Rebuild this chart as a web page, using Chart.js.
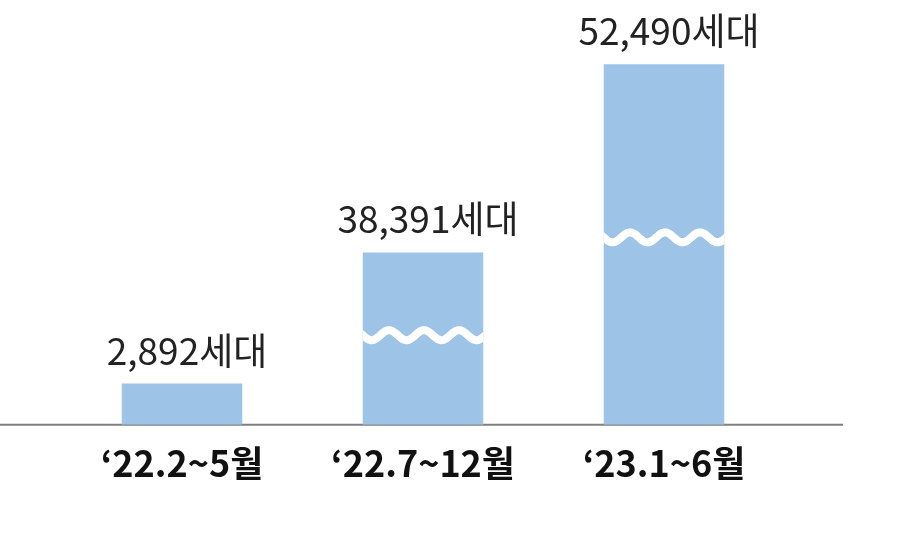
<!DOCTYPE html>
<html>
<head>
<meta charset="utf-8">
<script src="https://cdn.jsdelivr.net/npm/chart.js@4/dist/chart.umd.min.js"></script>
<style>
  html, body { margin: 0; padding: 0; background: #fff; }
  #wrap { width: 900px; height: 536px; }
</style>
</head>
<body>
<div id="wrap"><canvas id="chart"></canvas></div>
<script>
const periods = ["‘22.2~5월", "‘22.7~12월", "‘23.1~6월"];
const households = [2892, 38391, 52490];
// part of each bar hidden behind the wavy break
const hiddenByBreak = [0, 26300, 27200];

const shown = households.map((v, i) => v - hiddenByBreak[i]);

const baselinePlugin = {
  id: "baseline",
  beforeDatasetsDraw(chart) {
    const { ctx } = chart;
    const y = chart.scales.y.getPixelForValue(0);
    ctx.save();
    ctx.strokeStyle = "#7f7f7f";
    ctx.lineWidth = 2;
    ctx.beginPath();
    ctx.moveTo(0, y);
    ctx.lineTo(843, y);
    ctx.stroke();
    ctx.restore();
  },
};

const barExtrasPlugin = {
  id: "barExtras",
  afterDatasetsDraw(chart) {
    const { ctx } = chart;
    const meta = chart.getDatasetMeta(0);
    const base = chart.scales.y.getPixelForValue(0);
    ctx.save();
    meta.data.forEach((bar, i) => {
      const left = bar.x - bar.width / 2;
      const right = bar.x + bar.width / 2;
      if (hiddenByBreak[i] > 0) {
        const yMid = base - (base - bar.y) * 0.52;
        ctx.save();
        ctx.beginPath();
        ctx.rect(left, bar.y, bar.width, base - bar.y);
        ctx.clip();
        ctx.strokeStyle = "#ffffff";
        ctx.lineWidth = 8;
        ctx.lineJoin = "round";
        ctx.beginPath();
        for (let x = left - 4; x <= right + 4; x += 1) {
          const t = (x - left) / 35;
          const y = yMid + 5 * Math.sin(t * Math.PI * 2);
          if (x === left - 4) ctx.moveTo(x, y);
          else ctx.lineTo(x, y);
        }
        ctx.stroke();
        ctx.restore();
      }
      ctx.fillStyle = "#222";
      ctx.font = "37px 'Noto Sans CJK KR'";
      ctx.textAlign = "center";
      ctx.textBaseline = "alphabetic";
      ctx.fillText(households[i].toLocaleString("en-US") + "세대", bar.x + 5, bar.y - 19);
    });
    ctx.restore();
  },
};

new Chart(document.getElementById("chart"), {
  type: "bar",
  data: {
    labels: periods,
    datasets: [
      {
        data: shown,
        backgroundColor: "#9dc3e6",
        borderWidth: 0,
        barPercentage: 0.5,
        categoryPercentage: 1,
      },
    ],
  },
  options: {
    responsive: true,
    maintainAspectRatio: false,
    animation: false,
    layout: { padding: { left: 61.5, right: 115.5, top: 40, bottom: 34 } },
    plugins: {
      legend: { display: false },
      tooltip: { enabled: false },
    },
    scales: {
      x: {
        grid: { display: false, drawTicks: false },
        border: { display: false },
        ticks: {
          padding: 17,
          color: "#111",
          font: { family: "'Noto Sans CJK KR'", size: 36, weight: "bold" },
        },
      },
      y: {
        display: false,
        min: 0,
        max: 27000,
      },
    },
  },
  plugins: [baselinePlugin, barExtrasPlugin],
});
</script>
</body>
</html>
